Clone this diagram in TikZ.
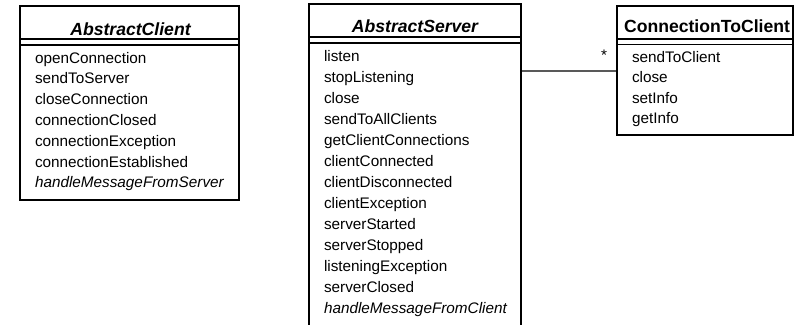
\documentclass[tikz,border=0pt]{standalone}
\usepackage{fontspec}
\setmainfont{Liberation Sans}
\usetikzlibrary{positioning}

\begin{document}
\begin{tikzpicture}[x=1bp, y=-1bp]
	\tikzstyle{every node}=[inner sep=0pt, outer sep=0pt]
	\tikzstyle{classbox}=[draw, line width=1.5bp, rectangle]
	\tikzstyle{title}=[font=\fontsize{17.6bp}{20bp}\selectfont\bfseries, anchor=base]
	\tikzstyle{op}=[font=\fontsize{15.3bp}{18bp}\selectfont, anchor=base west]
	\tikzstyle{sep}=[line width=1.3bp]
	\useasboundingbox (0,0) rectangle (804,324);
	\clip (0,0) rectangle (804,324);
	% class boxes
	\node [classbox, minimum width=219bp, minimum height=194bp] (client) at (129.5,103) {};
	\node [classbox, minimum width=212bp, minimum height=336bp] (server) at (415,172) {};
	\node [classbox, minimum width=176bp, minimum height=129bp] (conn) at (705,70.5) {};
	% title compartments
	\draw [sep] ([yshift=-33bp]client.north west) -- ([yshift=-33bp]client.north east);
	\draw [sep] ([yshift=-39bp]client.north west) -- ([yshift=-39bp]client.north east);
	\draw [sep] ([yshift=-33bp]server.north west) -- ([yshift=-33bp]server.north east);
	\draw [sep] ([yshift=-39bp]server.north west) -- ([yshift=-39bp]server.north east);
	\draw [sep] ([yshift=-33bp]conn.north west) -- ([yshift=-33bp]conn.north east);
	\draw [sep] ([yshift=-38.5bp]conn.north west) -- ([yshift=-38.5bp]conn.north east);
	\node [title] (clienttitle) at (130.5,35) {\itshape AbstractClient};
	\node [title] (servertitle) at (415,32) {\itshape AbstractServer};
	\node [title] (conntitle) at (707,32) {ConnectionToClient};
	% AbstractClient operations
	\node [op] (c1) at (35,63) {openConnection};
	\node [op] (c2) at (35,83.8) {sendToServer};
	\node [op] (c3) at (35,104.6) {closeConnection};
	\node [op] (c4) at (35,125.4) {connectionClosed};
	\node [op] (c5) at (35,146.2) {connectionException};
	\node [op] (c6) at (35,167) {connectionEstablished};
	\node [op] (c7) at (35,187.8) {\itshape handleMessageFromServer};
	% AbstractServer operations
	\node [op] (s1) at (324,61) {listen};
	\node [op] (s2) at (324,82) {stopListening};
	\node [op] (s3) at (324,103) {close};
	\node [op] (s4) at (324,124) {sendToAllClients};
	\node [op] (s5) at (324,145) {getClientConnections};
	\node [op] (s6) at (324,166) {clientConnected};
	\node [op] (s7) at (324,187) {clientDisconnected};
	\node [op] (s8) at (324,208) {clientException};
	\node [op] (s9) at (324,229) {serverStarted};
	\node [op] (s10) at (324,250) {serverStopped};
	\node [op] (s11) at (324,271) {listeningException};
	\node [op] (s12) at (324,292) {serverClosed};
	\node [op] (s13) at (324,313) {\itshape handleMessageFromClient};
	% ConnectionToClient operations
	\node [op] (k1) at (632,62) {sendToClient};
	\node [op] (k2) at (632,82.5) {close};
	\node [op] (k3) at (632,103) {setInfo};
	\node [op] (k4) at (632,123.5) {getInfo};
	% association
	\draw [sep] ([yshift=-67bp]server.north east) -- ([yshift=-65bp]conn.north west);
	\node [op, anchor=base east] (mult) at (607,60) {*};
\end{tikzpicture}
\end{document}
